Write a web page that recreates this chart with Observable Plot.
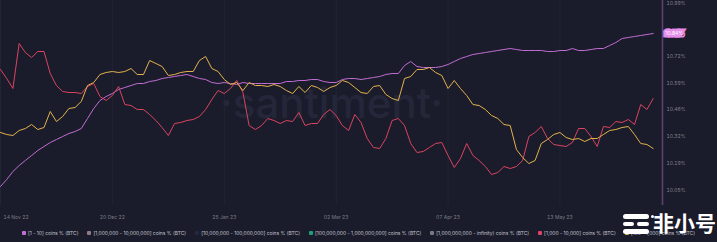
<!DOCTYPE html>
<html><head><meta charset="utf-8">
<script src="https://cdn.jsdelivr.net/npm/d3@7"></script>
<script src="https://cdn.jsdelivr.net/npm/@observablehq/plot@0.6"></script>
<style>
html,body{margin:0;padding:0;background:#1b1c2b;}
#wrap{position:relative;width:717px;height:242px;overflow:hidden;background:#1b1c2b;font-family:Inter,"Noto Sans",sans-serif;}
#chart svg{display:block;}
#legend{position:absolute;left:0;top:228px;width:717px;height:10px;display:flex;justify-content:center;align-items:center;gap:9px;font-size:4.95px;color:#c2c4cf;white-space:nowrap;}
.item{display:flex;align-items:center;gap:2px;}
.sw{width:4px;height:4px;border-radius:1px;display:inline-block;}
#logo{position:absolute;left:622px;top:210px;width:95px;height:26px;}
#logo .bar{position:absolute;background:#fff;border-radius:3px;}
#logo .txt{position:absolute;left:31px;top:-1px;font-family:"Noto Sans CJK SC";font-weight:700;font-size:21px;color:#fff;line-height:26px;}
</style></head><body>
<div id="wrap"><div id="chart"></div><div id="legend"></div>
<div id="logo"><div class="bar" style="left:1px;top:4px;width:26px;height:5px"></div><div class="bar" style="left:1px;top:12px;width:11px;height:4px"></div><div class="bar" style="left:15px;top:12px;width:12px;height:4px"></div><div class="bar" style="left:1px;top:19px;width:26px;height:5px"></div><div class="bar" style="left:29px;top:5px;width:3px;height:3px;border-radius:50%"></div><div class="txt">非小号</div></div>
</div>
<script>
const startDate = "2022-11-14";
const endDate = "2023-06-15";
const stepDays = 2;

// [1 - 10] coins % (BTC)
const purple = [10.070,10.105,10.145,10.175,10.200,10.225,10.250,10.270,10.290,10.305,
10.320,10.335,10.345,10.360,10.410,10.460,10.500,10.520,10.535,10.555,
10.565,10.575,10.585,10.585,10.595,10.600,10.610,10.615,10.620,10.625,
10.630,10.620,10.610,10.605,10.590,10.585,10.590,10.585,10.580,10.590,
10.585,10.585,10.585,10.585,10.585,10.585,10.595,10.595,10.600,10.600,
10.605,10.605,10.595,10.590,10.590,10.605,10.610,10.610,10.605,10.610,
10.615,10.620,10.630,10.635,10.635,10.675,10.695,10.670,10.665,10.665,
10.665,10.670,10.680,10.695,10.710,10.720,10.730,10.735,10.740,10.745,
10.750,10.755,10.760,10.755,10.750,10.750,10.750,10.750,10.745,10.745,
10.750,10.750,10.760,10.750,10.750,10.755,10.760,10.760,10.775,10.790,
10.810,10.815,10.820,10.825,10.830,10.835];

// [1,000 - 10,000] coins % (BTC)
const red = [10.655,10.610,10.560,10.785,10.740,10.715,10.745,10.745,10.635,10.575,
10.545,10.540,10.540,10.535,10.570,10.585,10.520,10.500,10.525,10.570,
10.480,10.475,10.455,10.455,10.430,10.400,10.365,10.325,10.385,10.390,
10.400,10.405,10.420,10.455,10.505,10.550,10.535,10.560,10.600,10.540,
10.375,10.355,10.375,10.410,10.400,10.385,10.400,10.395,10.440,10.375,
10.385,10.385,10.430,10.455,10.425,10.375,10.350,10.430,10.390,10.310,
10.265,10.260,10.310,10.400,10.410,10.375,10.285,10.240,10.245,10.265,
10.285,10.290,10.225,10.165,10.210,10.285,10.225,10.200,10.170,10.130,
10.140,10.170,10.160,10.170,10.200,10.320,10.340,10.370,10.310,10.280,
10.275,10.270,10.290,10.360,10.360,10.320,10.270,10.370,10.365,10.395,
10.390,10.405,10.380,10.480,10.455,10.510];

// [100 - 1,000] coins % (BTC)
const yellow = [10.340,10.330,10.325,10.350,10.360,10.380,10.355,10.365,10.445,10.395,
10.420,10.460,10.465,10.495,10.575,10.590,10.630,10.640,10.645,10.640,
10.645,10.660,10.630,10.630,10.700,10.685,10.670,10.625,10.630,10.640,
10.645,10.645,10.700,10.720,10.660,10.645,10.605,10.580,10.590,10.550,
10.590,10.575,10.575,10.570,10.580,10.570,10.550,10.535,10.570,10.540,
10.575,10.565,10.545,10.565,10.575,10.600,10.590,10.565,10.540,10.535,
10.570,10.575,10.530,10.510,10.500,10.610,10.620,10.655,10.655,10.665,
10.640,10.625,10.560,10.600,10.560,10.525,10.480,10.475,10.455,10.425,
10.410,10.380,10.375,10.255,10.215,10.185,10.200,10.285,10.305,10.330,
10.340,10.315,10.305,10.310,10.295,10.310,10.310,10.330,10.350,10.355,
10.365,10.370,10.330,10.285,10.280,10.260];

const lastLabel = "10.84%";

const legendNames = ["[1 - 10] coins % (BTC)","[1,000,000 - 10,000,000] coins % (BTC)","[10,000,000 - 100,000,000] coins % (BTC)","[100,000,000 - 1,000,000,000] coins % (BTC)","[1,000,000,000 - infinity) coins % (BTC)","[1,000 - 10,000] coins % (BTC)","[100 - 1,000] coins % (BTC)"];
const legendColors = ["#c26fd3","#8f7a84","#262838","#1f9f7a","#777a86","#dc4561","#e6bb4e"];

const xTickDates = ["2022-11-14","2022-12-20","2023-01-25","2023-03-02","2023-04-07","2023-05-13"];
const yTickValues = [10.985,10.72,10.585,10.455,10.32,10.185,10.05];
const yTickLabels = ["10.99%","10.72%","10.59%","10.46%","10.32%","10.19%","10.05%"];

const colPurple = "#c06cd2", colRed = "#d9445f", colYellow = "#e3b24c";

const start = new Date(startDate);
const rows = (arr) => arr.map((v, i) => ({date: d3.utcDay.offset(start, i * stepDays), v}));
const P = rows(purple), R = rows(red), Y = rows(yellow);
const xt = xTickDates.map(d => new Date(d));
const labelOf = new Map(yTickValues.map((v, i) => [v, yTickLabels[i]]));
const fmt = d3.utcFormat("%d %b %y");

const chart = Plot.plot({
  width: 717, height: 225,
  marginLeft: 0, marginRight: 55, marginTop: 0, marginBottom: 20,
  style: {background: "#1b1c2b", fontFamily: "Inter, 'Noto Sans', sans-serif"},
  x: {type: "utc", domain: [new Date(startDate), new Date(endDate)], label: null},
  y: {domain: [9.975, 11.0], label: null},
  marks: [
    Plot.ruleX(xt, {stroke: "#222436", strokeWidth: 1}),
    Plot.text(["·santiment·"], {frameAnchor: "middle", dy: 2, fontSize: 42, fill: "#24263a", fontWeight: 500}),
    Plot.line(P, {x: "date", y: "v", stroke: colPurple, strokeWidth: 1}),
    Plot.line(R, {x: "date", y: "v", stroke: colRed, strokeWidth: 1}),
    Plot.line(Y, {x: "date", y: "v", stroke: colYellow, strokeWidth: 1}),
    Plot.ruleX([new Date(endDate)], {stroke: "#5e4170", strokeWidth: 1.6}),
    Plot.axisY({anchor: "right", label: null, ticks: yTickValues, tickFormat: v => labelOf.get(v), tickSize: 0, tickPadding: 4, fontSize: 5, fill: "#80838f"}),
    Plot.text([purple[purple.length - 1]], {y: d => d, frameAnchor: "right", textAnchor: "start", dx: 3, text: () => lastLabel, fontSize: 5, fill: "#ffffff", stroke: "#e58de9", strokeWidth: 5, strokeLinejoin: "miter", paintOrder: "stroke"}),
    Plot.axisX({ticks: xt.slice(1), label: null, tickFormat: fmt, tickSize: 0, tickPadding: 10, fontSize: 5, fill: "#7a7d8a"}),
    Plot.axisX({ticks: xt.slice(0, 1), label: null, tickFormat: fmt, tickSize: 0, tickPadding: 10, fontSize: 5, fill: "#7a7d8a", textAnchor: "start", dx: 3})
  ]
});
document.getElementById("chart").appendChild(chart);

const lg = document.getElementById("legend");
legendNames.forEach((n, i) => {
  const it = document.createElement("div");
  it.className = "item";
  const sw = document.createElement("span");
  sw.className = "sw";
  sw.style.background = legendColors[i];
  const t = document.createElement("span");
  t.textContent = n;
  it.appendChild(sw); it.appendChild(t);
  lg.appendChild(it);
});
</script>
</body></html>
